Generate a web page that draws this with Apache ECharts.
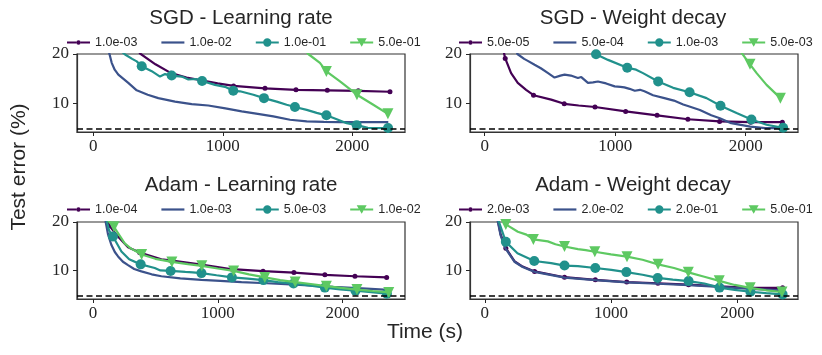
<!DOCTYPE html>
<html>
<head>
<meta charset="utf-8">
<script src="https://cdn.jsdelivr.net/npm/echarts@6/dist/echarts.min.js"></script>
<style>html,body{margin:0;padding:0;background:#fff}#c{width:822px;height:355px}</style>
</head>
<body>
<div id="c"></div>
<script>
// ---------------- data ----------------
const xTicks = [0, 1000, 2000];
const yTicks = [10, 20];
const baselineError = 4.85;

const titles = ['SGD - Learning rate', 'SGD - Weight decay', 'Adam - Learning rate', 'Adam - Weight decay'];
const sgdLrLabels = ['1.0e-03', '1.0e-02', '1.0e-01', '5.0e-01'];
const sgdWdLabels = ['5.0e-05', '5.0e-04', '1.0e-03', '5.0e-03'];
const adamLrLabels = ['1.0e-04', '1.0e-03', '5.0e-03', '1.0e-02'];
const adamWdLabels = ['2.0e-03', '2.0e-02', '2.0e-01', '5.0e-01'];

// SGD - Learning rate  ([time s, test error %]; marks = points carrying a marker)
const sgdLr0Marks = [[120,30],[361,20.1],[600,16.1],[845,14.6],[1083,13.5],[1326,13.0],[1565,12.7],[1807,12.6],[2046,12.5],[2291,12.3]];
const sgdLr0Path  = [[480,17.9],[720,15.2],[960,14.0]];
const sgdLr1Path  = [[100,24],[116,20.9],[142,18.2],[165,16.8],[193,15.8],[270,14.1],[335,12.6],[420,11.7],[502,11.0],[631,10.3],[760,9.8],[888,9.5],[1020,8.9],[1146,8.3],[1270,7.8],[1390,7.27],[1519,6.6],[1648,6.25],[1780,6.15],[1905,6.1],[2278,6.1]];
const sgdLr2Marks = [[130,22.5],[374,17.5],[605,15.6],[840,14.5],[1081,12.5],[1318,11.0],[1557,9.2],[1800,7.5],[2034,5.5],[2276,4.9]];
const sgdLr2Path  = [[245,19.9],[300,19.0],[335,18.5],[451,16.5],[515,15.4],[554,15.9],[683,15.4],[734,14.8],[790,14.9],[940,13.7],[1017,13.3],[1133,12.4],[1236,11.7],[1416,10.3],[1493,9.65],[1648,8.6],[1725,8.0],[1880,6.7],[1957,5.9],[2120,4.95]];
const sgdLr3Marks = [[1565,23],[1800,16.45],[2036,11.7],[2275,7.8]];
const sgdLr3Path  = [[1660,20.0],[1750,18.2],[1905,14.4],[2162,9.65]];

// SGD - Weight decay
const sgdWd0Marks = [[157,19.1],[374,11.6],[609,9.85],[845,9.2],[1080,8.3],[1321,7.5],[1557,6.7],[1800,6.25],[2038,6.1],[2281,6.1]];
const sgdWd0Path  = [[125,26],[145,20.5],[202,16.1],[253,14.1],[317,12.7],[509,10.7],[720,9.5]];
const sgdWd1Path  = [[225,23],[250,20],[302,19.0],[330,18.6],[382,17.8],[430,17.1],[480,16.2],[535,15.2],[580,15.6],[612,15.8],[660,15.6],[714,15.1],[740,15.3],[791,14.1],[830,14.2],[868,14.4],[930,14.0],[996,13.4],[1040,13.3],[1070,13.2],[1110,12.9],[1150,12.5],[1190,12.7],[1224,12.4],[1290,11.6],[1377,11.0],[1450,10.5],[1521,9.7],[1557,9.4],[1649,8.6],[1736,7.5],[1802,6.9],[1889,5.9],[2035,5.2],[2150,4.9],[2281,4.9]];
const sgdWd2Marks = [[615,23],[853,19.95],[1092,17.2],[1329,14.4],[1570,12.2],[1807,9.45],[2044,6.65],[2287,4.95]];
const sgdWd2Path  = [[945,18.8],[1160,16.8],[1213,16.1],[1444,13.1],[1700,11.0],[1930,7.96],[2160,5.57]];
const sgdWd3Marks = [[1800,24.5],[2033,17.9],[2266,11.0]];
const sgdWd3Path  = [[1970,20.2],[2084,16.1],[2160,13.7]];

// Adam - Learning rate
const adamLr0Marks = [[129,19.3],[374,13.7],[620,12.1],[869,11.2],[1115,10.25],[1363,9.85],[1610,9.55],[1858,9.1],[2099,8.8],[2353,8.55]];
const adamLr0Path  = [[95,24],[118,20.6],[200,17.0],[281,14.8],[548,12.3]];
const adamLr1Path  = [[88,24],[102,20],[120,17.5],[147,15.3],[175,13.8],[201,12.9],[240,11.8],[281,11.1],[330,10.3],[388,9.8],[470,9.2],[548,8.8],[700,8.35],[869,8.05],[1020,7.85],[1190,7.6],[1391,7.35],[1658,7.0],[1925,6.6],[2192,6.25],[2366,6.0]];
const adamLr2Marks = [[160,17.0],[382,11.25],[622,9.9],[869,9.45],[1113,8.56],[1365,8.0],[1607,7.3],[1858,6.45],[2103,5.8],[2355,5.2]];
const adamLr2Path  = [[95,24],[112,20],[130,18.2],[228,13.9],[290,12.3],[495,10.5],[540,10.0],[740,9.7],[800,9.6],[990,9.0],[1240,8.3],[1480,7.6],[1730,6.9],[1980,6.1],[2230,5.5]];
const adamLr3Marks = [[168,19.0],[390,13.3],[632,11.75],[872,10.95],[1127,9.9],[1377,8.56],[1620,7.6],[1870,6.75],[2115,6.05],[2370,5.45]];
const adamLr3Path  = [[105,24],[125,20.2],[254,15.6],[300,14.6],[500,12.4],[760,11.3],[1000,10.4],[1250,9.2],[1500,8.0],[1745,7.2],[1990,6.4],[2240,5.75]];

// Adam - Weight decay
const adamWd0Marks = [[167,14.6],[395,9.8],[632,8.6],[876,8.05],[1125,7.6],[1372,7.35],[1615,7.05],[1860,6.7],[2105,6.4],[2360,6.4]];
const adamWd0Path  = [[85,25],[103,20.5],[125,17.5],[235,11.9],[300,10.8]];
const adamWd1Path  = [[85,25],[100,20.5],[125,17.3],[160,14.7],[235,11.8],[300,10.7],[395,9.7],[632,8.5],[876,8.0],[1125,7.55],[1372,7.25],[1615,6.95],[1860,6.6],[2105,6.2],[2360,5.9]];
const adamWd2Marks = [[167,15.9],[392,11.95],[632,11.0],[876,10.5],[1122,9.65],[1370,8.45],[1615,7.8],[1860,6.45],[2105,5.6],[2360,5.05]];
const adamWd2Path  = [[92,24],[110,20.2],[259,13.55],[526,11.5],[738,10.9],[1003,10.1],[1250,9.1],[1490,8.1],[1740,7.3],[1980,6.0],[2230,5.3]];
const adamWd3Marks = [[167,19.5],[385,16.4],[632,14.95],[872,13.85],[1127,12.85],[1373,11.25],[1613,9.6],[1858,7.85],[2103,6.4],[2355,5.55]];
const adamWd3Path  = [[110,24],[140,20.5],[262,18.0],[330,17.4],[500,16.0],[560,15.4],[738,14.4],[800,14.2],[1000,13.3],[1250,12.2],[1500,10.5],[1740,8.7],[1980,7.0],[2230,5.9]];

// ---------------- layout / style ----------------
const panels = [
  {title: titles[0], labels: sgdLrLabels, lines: [[sgdLr0Marks, sgdLr0Path], [[], sgdLr1Path], [sgdLr2Marks, sgdLr2Path], [sgdLr3Marks, sgdLr3Path]],
   grid: {left: 77, top: 54, width: 328, height: 78}, xMin: -126, xMax: 2407, legendLeft: 67, legendTop: 36, titleX: 241, titleY: 18},
  {title: titles[1], labels: sgdWdLabels, lines: [[sgdWd0Marks, sgdWd0Path], [[], sgdWd1Path], [sgdWd2Marks, sgdWd2Path], [sgdWd3Marks, sgdWd3Path]],
   grid: {left: 470, top: 54, width: 328, height: 78}, xMin: -113, xMax: 2401, legendLeft: 459, legendTop: 36, titleX: 633, titleY: 18},
  {title: titles[2], labels: adamLrLabels, lines: [[adamLr0Marks, adamLr0Path], [[], adamLr1Path], [adamLr2Marks, adamLr2Path], [adamLr3Marks, adamLr3Path]],
   grid: {left: 77, top: 222, width: 328, height: 77}, xMin: -128, xMax: 2500, legendLeft: 67, legendTop: 203, titleX: 241, titleY: 185},
  {title: titles[3], labels: adamWdLabels, lines: [[adamWd0Marks, adamWd0Path], [[], adamWd1Path], [adamWd2Marks, adamWd2Path], [adamWd3Marks, adamWd3Path]],
   grid: {left: 470, top: 222, width: 328, height: 77}, xMin: -117, xMax: 2482, legendLeft: 459, legendTop: 203, titleX: 633, titleY: 185}
];

// legend icons: line segment with the series marker in its middle (23 x 10 box)
const iconPurple = 'path://M0,3.9H9.3V6.1H0Z M13.7,3.9H23V6.1H13.7Z M9.3,5A2.2,2.2 0 1,1 13.7,5A2.2,2.2 0 1,1 9.3,5Z';
const iconBlue = 'path://M0,3.9H23V6.1H0Z';
const iconTeal = 'path://M0,3.9H7.4V6.1H0Z M15.6,3.9H23V6.1H15.6Z M7.3,5A4.2,4.2 0 1,1 15.7,5A4.2,4.2 0 1,1 7.3,5Z';
const iconGreen = 'path://M0,3.9H9.2V6.1H0Z M13.8,3.9H23V6.1H13.8Z M6.5,0.65L16.5,0.65L11.5,9.35Z';

const styles = [
  {color: '#440154', symbol: 'circle', size: 5, rotate: 0, icon: iconPurple},
  {color: '#3b528b', symbol: 'none', size: 0, rotate: 0, icon: iconBlue},
  {color: '#21918c', symbol: 'circle', size: 10, rotate: 0, icon: iconTeal},
  {color: '#5ec962', symbol: 'triangle', size: 11, rotate: 180, icon: iconGreen}
];

const SANS = 'Liberation Sans';
const SERIF = 'Liberation Serif';
const INK = '#262626';

function buildData(marks, path) {
  const all = marks.map(p => ({v: p, m: true})).concat(path.map(p => ({v: p, m: false})));
  all.sort((a, b) => a.v[0] - b.v[0]);
  return all.map(d => d.m ? {value: d.v} : {value: d.v, symbol: 'none'});
}

const grids = [], xAxes = [], yAxes = [], series = [], legends = [], graphics = [];
const nameMap = {};

panels.forEach((p, pi) => {
  grids.push(Object.assign({show: true, borderColor: '#333', borderWidth: 1.2, backgroundColor: 'transparent'}, p.grid));
  xAxes.push({
    type: 'value', gridIndex: pi, min: p.xMin, max: p.xMax,
    axisLine: {show: true, onZero: false, lineStyle: {color: '#333', width: 1.2}},
    axisTick: {show: true, length: 4, customValues: xTicks, lineStyle: {color: INK, width: 1}},
    axisLabel: {customValues: xTicks, formatter: v => String(v), fontFamily: SERIF, fontSize: 17, color: INK, margin: 6},
    splitLine: {show: false}
  });
  yAxes.push({
    type: 'value', gridIndex: pi, min: 4.1, max: 20,
    axisLine: {show: true, onZero: false, lineStyle: {color: '#333', width: 1.2}},
    axisTick: {show: true, length: 4, customValues: yTicks, lineStyle: {color: INK, width: 1}},
    axisLabel: {customValues: yTicks, formatter: v => String(v), fontFamily: SERIF, fontSize: 17, color: INK, margin: 8},
    splitLine: {show: false}
  });
  const items = [];
  p.lines.forEach((ln, si) => {
    const st = styles[si];
    const nm = 'p' + pi + 's' + si;
    nameMap[nm] = p.labels[si];
    items.push({name: nm, icon: st.icon, itemStyle: {color: st.color, borderWidth: 0}});
    const s = {
      type: 'line', name: nm, xAxisIndex: pi, yAxisIndex: pi,
      data: buildData(ln[0], ln[1]),
      symbol: st.symbol, symbolSize: st.size, symbolRotate: st.rotate,
      showSymbol: st.symbol !== 'none', showAllSymbol: true,
      lineStyle: {color: st.color, width: 2.2},
      itemStyle: {color: st.color, borderWidth: 0},
      clip: true, silent: true, z: 2 + si
    };
    if (si === 0) {
      s.markLine = {
        silent: true, symbol: ['none', 'none'], label: {show: false},
        lineStyle: {color: '#000', type: [6, 3.5], width: 1.6},
        data: [{yAxis: baselineError}]
      };
    }
    series.push(s);
  });
  legends.push({
    left: p.legendLeft, top: p.legendTop, padding: 0, itemGap: 24, itemWidth: 23, itemHeight: 10,
    symbolKeepAspect: true, symbolRotate: 0,
    data: items, formatter: n => nameMap[n], selectedMode: false,
    textStyle: {fontFamily: SANS, fontSize: 12.5, color: INK}
  });
  graphics.push({
    type: 'text', x: p.titleX, y: p.titleY,
    style: {text: p.title, font: '20.5px "' + SANS + '"', fill: INK, textAlign: 'center', textVerticalAlign: 'middle'}
  });
});

graphics.push({
  type: 'text', x: 425, y: 332,
  style: {text: 'Time (s)', font: '21px "' + SANS + '"', fill: INK, textAlign: 'center', textVerticalAlign: 'middle'}
});
graphics.push({
  type: 'text', x: 19, y: 167, rotation: Math.PI / 2,
  style: {text: 'Test error (%)', font: '21px "' + SANS + '"', fill: INK, textAlign: 'center', textVerticalAlign: 'middle'}
});

const chart = echarts.init(document.getElementById('c'), null, {renderer: 'canvas'});
chart.setOption({
  animation: false,
  backgroundColor: '#fff',
  grid: grids, xAxis: xAxes, yAxis: yAxes, series: series, legend: legends, graphic: graphics
});
</script>
</body>
</html>
